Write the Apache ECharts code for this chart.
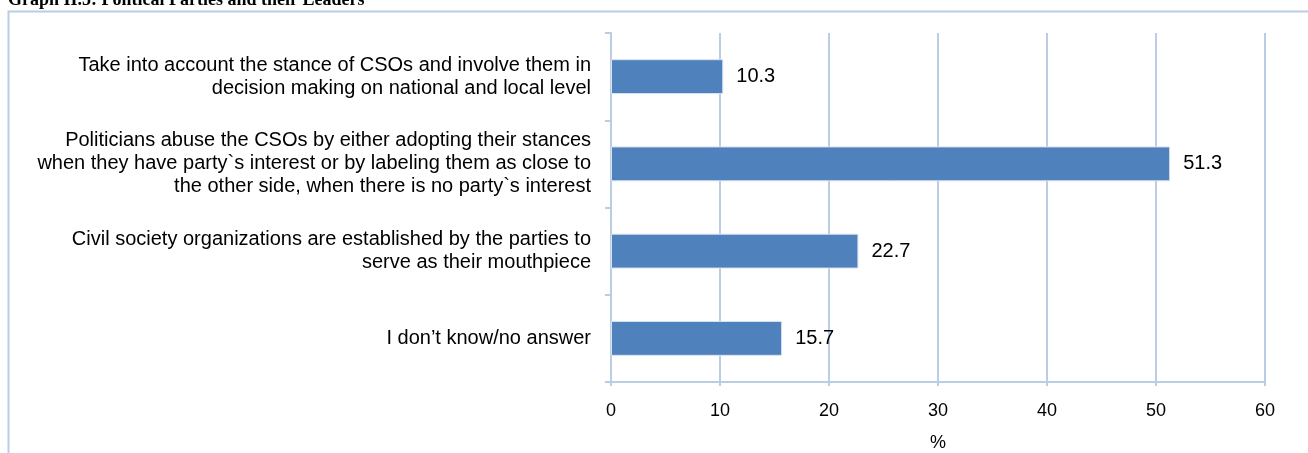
<!DOCTYPE html>
<html>
<head>
<meta charset="utf-8">
<script src="https://cdn.jsdelivr.net/npm/echarts@6/dist/echarts.min.js"></script>
<style>
  html, body { margin: 0; padding: 0; background: #ffffff; }
  #chart { width: 1308px; height: 453px; }
</style>
</head>
<body>
<div id="chart"></div>
<script>
// Survey answers, top to bottom
const categories = [
  'Take into account the stance of CSOs and involve them in\ndecision making on national and local level',
  'Politicians abuse the CSOs by either adopting their stances\nwhen they have party`s interest or by labeling them as close to\nthe other side, when there is no party`s interest',
  'Civil society organizations are established by the parties to\nserve as their mouthpiece',
  'I don\u2019t know/no answer'
];
// Share of respondents, %
const values = [10.3, 51.3, 22.7, 15.7];
const axisTicks = [0, 10, 20, 30, 40, 50, 60];

const chart = echarts.init(document.getElementById('chart'));
const font = '"Liberation Sans", Arial, sans-serif';
const lineColor = '#B9CDE5';

chart.setOption({
  animation: false,
  graphic: [
    {
      type: 'text',
      left: 8, top: -9,
      style: {
        text: 'Graph II.5: Political Parties and their Leaders',
        font: 'bold 18px "Liberation Serif", "Times New Roman", serif',
        fill: '#000'
      }
    },
    {
      type: 'polyline',
      shape: { points: [[1310, 11.5], [8.5, 11.5], [8.5, 460]] },
      style: { stroke: lineColor, lineWidth: 2, fill: null }
    }
  ],
  grid: { left: 611, right: 43, top: 33, bottom: 71, containLabel: false, outerBoundsMode: 'none' },
  xAxis: {
    type: 'value',
    min: axisTicks[0],
    max: axisTicks[axisTicks.length - 1],
    interval: 10,
    name: '%',
    nameLocation: 'middle',
    nameGap: 52,
    nameTextStyle: { fontFamily: font, fontSize: 18, color: '#000' },
    axisLine: { show: true, lineStyle: { color: lineColor, width: 2 } },
    axisTick: { show: true, length: 4, lineStyle: { color: lineColor, width: 2 } },
    axisLabel: { fontFamily: font, fontSize: 18, color: '#000', margin: 20 },
    splitLine: { show: true, lineStyle: { color: lineColor, width: 2 } }
  },
  yAxis: {
    type: 'category',
    data: categories,
    inverse: true,
    axisLine: { show: true, lineStyle: { color: lineColor, width: 2 } },
    axisTick: { show: true, length: 6, lineStyle: { color: lineColor, width: 2 } },
    axisLabel: {
      fontFamily: font, fontSize: 20, color: '#000',
      margin: 20, align: 'right', lineHeight: 23
    }
  },
  series: [{
    type: 'bar',
    data: values,
    barCategoryGap: '60%',
    itemStyle: { color: '#4F81BD', borderColor: '#D9E4F1', borderWidth: 1 },
    label: {
      show: true, position: 'right', distance: 13,
      fontFamily: font, fontSize: 20, color: '#000',
      formatter: p => p.value.toFixed(1)
    }
  }]
});
</script>
</body>
</html>
